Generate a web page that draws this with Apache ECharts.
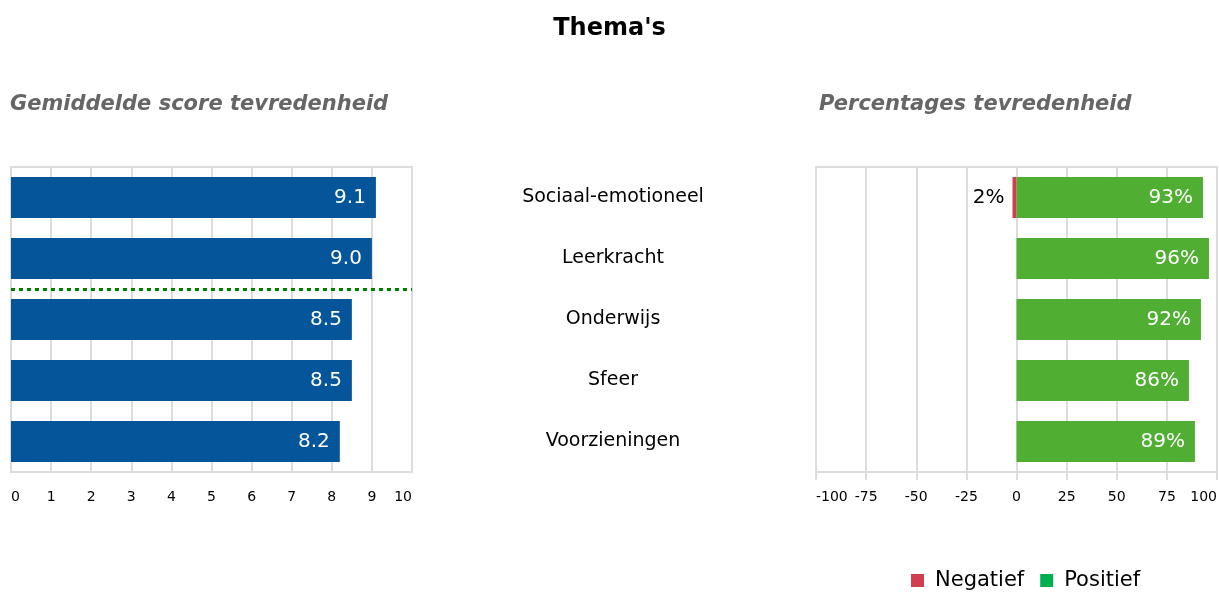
<!DOCTYPE html>
<html>
<head>
<meta charset="utf-8">
<script src="https://cdn.jsdelivr.net/npm/echarts@6/dist/echarts.min.js"></script>
<style>
    html, body { margin: 0; padding: 0; background: #fff; }
    #main { width: 1219px; height: 594px; }
</style>
</head>
<body>
<div id="main"></div>
<script>
// data
let themes = ['Sociaal-emotioneel', 'Leerkracht', 'Onderwijs', 'Sfeer', 'Voorzieningen'];
let scores = [9.1, 9.0, 8.5, 8.5, 8.2];
let negative = [-2, null, null, null, null];
let positive = [93, 96, 92, 86, 89];
let separatorAt = 2; // dotted line after the first two themes

window.addEventListener('load', function () {
    let chart = echarts.init(document.getElementById('main'));
    let font = 'DejaVu Sans';
    let gridGrey = '#dcdcdc';
    let option = {
        textStyle: { fontFamily: font },
        title: [
            {
                text: "Thema's",
                left: 'center',
                top: 12,
                textStyle: { fontSize: 24, fontWeight: 'bold', color: '#000', fontFamily: font }
            },
            {
                text: 'Gemiddelde score tevredenheid',
                left: 5,
                top: 89,
                textStyle: { fontSize: 21, fontWeight: 'bold', fontStyle: 'italic', color: '#666', fontFamily: font }
            },
            {
                text: 'Percentages tevredenheid',
                left: 814,
                top: 89,
                textStyle: { fontSize: 21, fontWeight: 'bold', fontStyle: 'italic', color: '#666', fontFamily: font }
            }
        ],
        legend: {
            data: [
                { name: 'Negatief', itemStyle: { color: '#d13f4f' } },
                { name: 'Positief', itemStyle: { color: '#00b050' } }
            ],
            left: 906,
            top: 565,
            icon: 'rect',
            itemWidth: 13,
            itemHeight: 13,
            itemGap: 16,
            textStyle: { fontSize: 21, color: '#000', fontFamily: font, padding: [0, 0, 0, 6] }
        },
        grid: [
            { left: 11, top: 167, width: 401, height: 305, show: true, borderColor: gridGrey, borderWidth: 2, outerBoundsMode: 'none' },
            { left: 816, top: 167, width: 401, height: 305, show: true, borderColor: gridGrey, borderWidth: 2, outerBoundsMode: 'none' }
        ],
        xAxis: [
            {
                type: 'value', gridIndex: 0, min: 0, max: 10, interval: 1,
                axisLine: { show: true, lineStyle: { color: gridGrey, width: 2 } },
                axisTick: { show: true, length: 8, lineStyle: { color: gridGrey, width: 2 } },
                splitLine: { show: true, lineStyle: { color: gridGrey, width: 2 } },
                axisLabel: { color: '#000', fontSize: 14, margin: 18, alignMinLabel: 'left', alignMaxLabel: 'right' }
            },
            {
                type: 'value', gridIndex: 1, min: -100, max: 100, interval: 25,
                axisLine: { show: true, lineStyle: { color: gridGrey, width: 2 } },
                axisTick: { show: true, length: 8, lineStyle: { color: gridGrey, width: 2 } },
                splitLine: { show: true, lineStyle: { color: gridGrey, width: 2 } },
                axisLabel: { color: '#000', fontSize: 14, margin: 18, alignMinLabel: 'left', alignMaxLabel: 'right' }
            }
        ],
        yAxis: [
            {
                type: 'category', gridIndex: 0, data: themes, inverse: true,
                axisLine: { show: false }, axisTick: { show: false }, axisLabel: { show: false }
            },
            {
                type: 'category', gridIndex: 1, data: themes, inverse: true,
                axisLine: { show: false, onZero: false }, axisTick: { show: false },
                axisLabel: { color: '#000', fontSize: 19, margin: 203, align: 'center' }
            },
            {
                type: 'value', gridIndex: 0, min: 0, max: themes.length, inverse: true, show: false
            }
        ],
        series: [
            {
                name: 'Score',
                type: 'bar',
                xAxisIndex: 0,
                yAxisIndex: 0,
                barWidth: 41,
                itemStyle: { color: '#04559a' },
                label: {
                    show: true, position: 'insideRight', distance: 10,
                    color: '#fff', fontSize: 20,
                    formatter: function (p) { return p.value.toFixed(1); }
                },
                data: scores
            },
            {
                name: 'separator',
                type: 'line',
                xAxisIndex: 0,
                yAxisIndex: 2,
                data: [],
                markLine: {
                    symbol: 'none',
                    silent: true,
                    label: { show: false },
                    lineStyle: { color: '#008000', width: 3, type: [4, 4] },
                    data: [{ yAxis: separatorAt }]
                }
            },
            {
                name: 'Negatief',
                type: 'bar',
                stack: 'pct',
                xAxisIndex: 1,
                yAxisIndex: 1,
                barWidth: 41,
                itemStyle: { color: '#d13f4f' },
                label: {
                    show: true, position: 'left', distance: 8,
                    color: '#000', fontSize: 20,
                    formatter: function (p) { return Math.abs(p.value) + '%'; }
                },
                data: negative
            },
            {
                name: 'Positief',
                type: 'bar',
                stack: 'pct',
                xAxisIndex: 1,
                yAxisIndex: 1,
                barWidth: 41,
                itemStyle: { color: '#50af32' },
                label: {
                    show: true, position: 'insideRight', distance: 10,
                    color: '#fff', fontSize: 20,
                    formatter: '{c}%'
                },
                data: positive
            }
        ]
    };
    chart.setOption(option);
}, false);
</script>
</body>
</html>
